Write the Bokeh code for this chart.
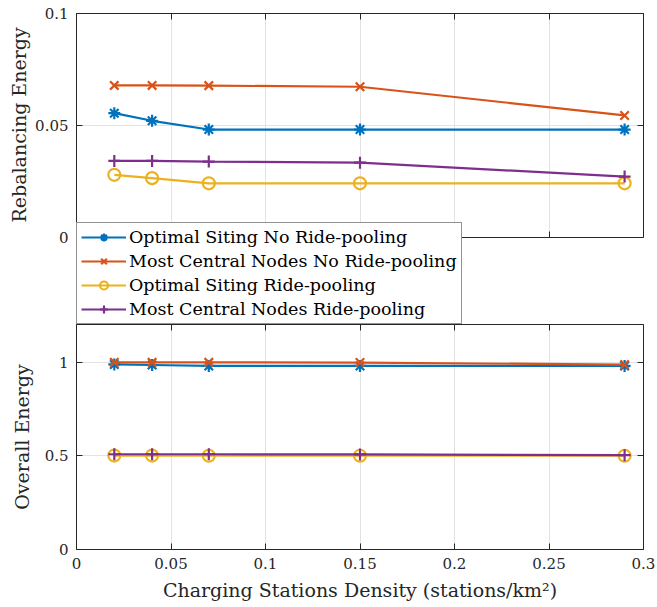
from bokeh.plotting import figure
from bokeh.layouts import column
from bokeh.models import (Range1d, FixedTicker, LinearAxis, Legend, LegendItem, BoxAnnotation,
                          Title, CustomLabelingPolicy)
from bokeh.embed import file_html
from bokeh.resources import INLINE

density = [0.02, 0.04, 0.07, 0.15, 0.29]

reb_opt_norp = [0.0555, 0.0521, 0.0482, 0.0482, 0.0482]
reb_mc_norp = [0.0679, 0.0679, 0.0678, 0.0673, 0.0545]
reb_opt_rp = [0.0280, 0.0265, 0.0242, 0.0242, 0.0242]
reb_mc_rp = [0.0342, 0.0342, 0.0339, 0.0334, 0.0272]

tot_opt_norp = [0.987, 0.984, 0.979, 0.979, 0.979]
tot_mc_norp = [0.998, 0.998, 0.998, 0.997, 0.986]
tot_opt_rp = [0.501, 0.501, 0.500, 0.500, 0.500]
tot_mc_rp = [0.508, 0.508, 0.508, 0.507, 0.503]

labels = ["Optimal Siting No Ride-pooling", "Most Central Nodes No Ride-pooling",
          "Optimal Siting Ride-pooling", "Most Central Nodes Ride-pooling"]
colors = ["#0072BD", "#D95319", "#EDB120", "#7E2F8E"]
markers = ["asterisk", "x", "circle", "cross"]

x_ticks = [0, 0.05, 0.1, 0.15, 0.2, 0.25, 0.3]
x_tick_labels = ["0", "0.05", "0.1", "0.15", "0.2", "0.25", "0.3"]
top_y_ticks = [0, 0.05, 0.1]
top_y_tick_labels = ["0", "0.05", "0.1"]
bot_y_ticks = [0, 0.5, 1]
bot_y_tick_labels = ["0", "0.5", "1"]

FONT = "DejaVu Serif"
TICK_FS = "15px"
LABEL_FS = "19px"
LEGEND_FS = "17.5px"
AXIS_COL = "#262626"
GRID_COL = "#e3e3e3"

W = 655
FRAME_L = 76
FRAME_R = 12
TOP_FRAME_PX = 224      # pixels for the 0..0.1 part of the top panel
GAP_PX = 87             # pixels between the two panels (legend sits here)

NO_LABELS = CustomLabelingPolicy(code="""
    const out = indices.clone();
    for (let i = 0; i < out.size; i++) { out.unset(i); }
    return out;
""")


def style_axis(ax, ticks, tick_labels, show_labels=True):
    ax.ticker = FixedTicker(ticks=ticks)
    ax.major_label_overrides = {t: l for t, l in zip(ticks, tick_labels)}
    ax.major_tick_in = 6
    ax.major_tick_out = 0
    ax.minor_tick_in = 0
    ax.minor_tick_out = 0
    ax.axis_line_color = AXIS_COL
    ax.axis_line_width = 1
    ax.major_tick_line_color = AXIS_COL
    ax.major_label_text_font = FONT
    ax.major_label_text_color = "#262626"
    ax.axis_label_text_font = FONT
    ax.axis_label_text_font_size = LABEL_FS
    ax.axis_label_text_font_style = "normal"
    ax.axis_label_text_color = "#262626"
    if show_labels:
        ax.major_label_text_font_size = TICK_FS
        ax.major_label_standoff = 8
    else:
        ax.major_label_text_font_size = "0px"
        ax.major_label_standoff = 0
        ax.major_label_policy = NO_LABELS


def base_fig(height, y_range, bt, bb):
    p = figure(width=W, height=height, output_backend="svg", toolbar_location=None,
               x_range=Range1d(0, 0.3), y_range=y_range,
               min_border_left=FRAME_L, min_border_right=FRAME_R,
               min_border_top=bt, min_border_bottom=bb)
    p.outline_line_color = None
    p.grid.grid_line_color = GRID_COL
    p.xgrid.ticker = FixedTicker(ticks=x_ticks)
    p.background_fill_color = "white"
    p.border_fill_color = "white"
    return p


# ---- top panel: frame extended downward so the legend can sit below y=0
ytop = 0.1
ybot = -ytop * GAP_PX / TOP_FRAME_PX
p1 = base_fig(13 + TOP_FRAME_PX + GAP_PX, Range1d(ybot, ytop), 13, 0)
p1.ygrid.ticker = FixedTicker(ticks=top_y_ticks)
style_axis(p1.xaxis[0], x_ticks, x_tick_labels, False)
p1.xaxis[0].fixed_location = 0
style_axis(p1.yaxis[0], top_y_ticks, top_y_tick_labels, True)
p1.yaxis[0].bounds = (0, ytop)
t1 = LinearAxis()
style_axis(t1, x_ticks, x_tick_labels, False)
r1 = LinearAxis(bounds=(0, ytop))
style_axis(r1, top_y_ticks, top_y_tick_labels, False)
p1.add_layout(t1, "above")
p1.add_layout(r1, "right")
p1.add_layout(BoxAnnotation(top=0, fill_color="white", fill_alpha=1.0,
                            line_color=None, level="underlay"))
ylab1 = Title(text="Rebalancing Energy", align="left", offset=GAP_PX + 15,
              text_font=FONT, text_font_size=LABEL_FS, text_font_style="normal",
              text_color="#262626", vertical_align="middle", standoff=4)
p1.add_layout(ylab1, "left")

# ---- bottom panel
p2 = base_fig(607 - (13 + TOP_FRAME_PX + GAP_PX), Range1d(0, 1.2), 0, 58)
p2.ygrid.ticker = FixedTicker(ticks=bot_y_ticks)
style_axis(p2.xaxis[0], x_ticks, x_tick_labels, True)
p2.xaxis[0].axis_label = "Charging Stations Density (stations/km\u00b2)"
p2.xaxis[0].axis_label_standoff = 7
style_axis(p2.yaxis[0], bot_y_ticks, bot_y_tick_labels, True)
p2.yaxis[0].axis_label = "Overall Energy"
p2.yaxis[0].axis_label_standoff = 9
t2 = LinearAxis()
style_axis(t2, x_ticks, x_tick_labels, False)
r2 = LinearAxis()
style_axis(r2, bot_y_ticks, bot_y_tick_labels, False)
p2.add_layout(t2, "above")
p2.add_layout(r2, "right")

items = []
for ys, c, m, lab in zip([reb_opt_norp, reb_mc_norp, reb_opt_rp, reb_mc_rp], colors, markers, labels):
    l = p1.line(density, ys, line_color=c, line_width=2.2)
    s = p1.scatter(density, ys, marker=m, size=12, line_color=c, line_width=2.2, fill_color=None)
    items.append(LegendItem(label=lab, renderers=[l, s]))

for ys, c, m in zip([tot_opt_norp, tot_mc_norp, tot_opt_rp, tot_mc_rp], colors, markers):
    p2.line(density, ys, line_color=c, line_width=2.2)
    p2.scatter(density, ys, marker=m, size=12, line_color=c, line_width=2.2, fill_color=None)

legend = Legend(items=items, location=(0, 0))
legend.label_text_font = FONT
legend.label_text_font_size = LEGEND_FS
legend.label_text_color = "black"
legend.glyph_width = 45
legend.glyph_height = 20
legend.label_height = 20
legend.label_standoff = 3
legend.spacing = 4
legend.padding = 4
legend.margin = 0
legend.border_line_color = AXIS_COL
legend.border_line_width = 1
legend.background_fill_color = "white"
legend.background_fill_alpha = 1.0
p1.add_layout(legend, "center")

layout = column(p1, p2, spacing=0)
open("out.html", "w").write(file_html(layout, INLINE))
